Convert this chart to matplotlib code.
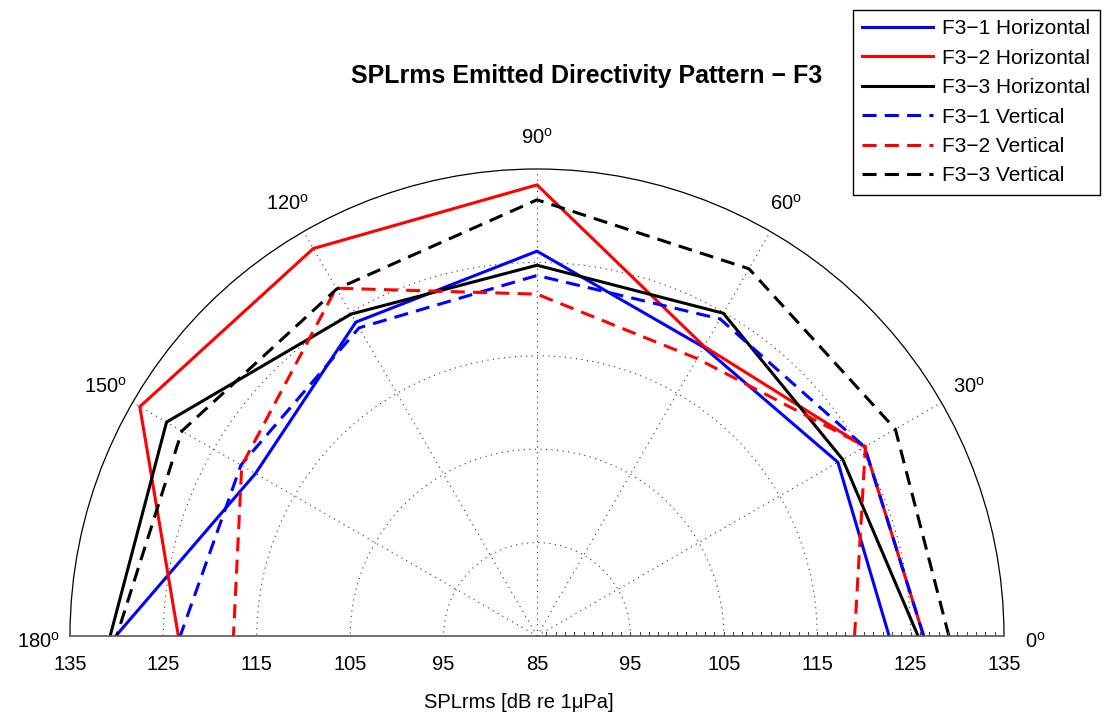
import numpy as np
import matplotlib
matplotlib.use('Agg')
import matplotlib.pyplot as plt

plt.rcParams['font.family'] = ['Liberation Sans', 'DejaVu Sans']
plt.rcParams['mathtext.default'] = 'regular'

# measurement angles (deg) and SPLrms levels (dB re 1uPa)
angles = [0, 30, 60, 90, 120, 150, 180]
f31_h = [122.7, 122.2, 120.7, 126.2, 123.8, 119.8, 130.1]
f32_h = [126.4, 125.5, 120.8, 133.3, 132.9, 134.1, 123.4]
f33_h = [125.8, 122.8, 124.9, 124.7, 124.8, 130.8, 130.7]
f31_v = [126.4, 125.5, 124.2, 123.6, 123.1, 121.6, 123.2]
f32_v = [119.0, 125.6, 119.3, 121.6, 128.0, 121.5, 117.5]
f33_v = [129.1, 129.3, 130.4, 131.7, 127.9, 128.9, 130.0]

labels = ['F3\u22121 Horizontal', 'F3\u22122 Horizontal', 'F3\u22123 Horizontal',
          'F3\u22121 Vertical', 'F3\u22122 Vertical', 'F3\u22123 Vertical']
r_ticks = [135, 125, 115, 105, 95, 85]
theta_ticks = [0, 30, 60, 90, 120, 150, 180]

fig = plt.figure(figsize=(11.05, 7.16), dpi=100)
# polar axes box stays square; the upper half-disc sits in its middle band
ax = fig.add_axes([70/1105, -153.5/716, 934/1105, 934/716], projection='polar')
ax.set_thetamin(0)
ax.set_thetamax(180)
ax.set_rlim(85, 135)

th = np.deg2rad(angles)
series = [f31_h, f32_h, f33_h, f31_v, f32_v, f33_v]
colors = ['b', 'r', 'k', 'b', 'r', 'k']
handles = []
for i, (vals, c) in enumerate(zip(series, colors)):
    if i < 3:
        ln, = ax.plot(th, vals, color=c, lw=2.2, solid_joinstyle='miter')
    else:
        ln, = ax.plot(th, vals, color=c, lw=2.2, dashes=(4.6, 2.7))
    handles.append(ln)

# grid
ax.set_xticks(np.deg2rad([30, 60, 90, 120, 150]))
ax.set_yticks([95, 105, 115, 125])
ax.set_xticklabels([])
ax.set_yticklabels([])
ax.tick_params(length=0)
ax.grid(True, color='0.2', lw=0.8, linestyle=(0, (1, 4)))
ax.spines['polar'].set_linewidth(0.9)
ax.spines['polar'].set_color('k')
for s in ['start', 'end']:
    ax.spines[s].set_color('0.35')
    ax.spines[s].set_linewidth(1.2)

# small ticks along the right baseline
ax.plot(np.zeros(49), np.arange(86, 135), ls='none', marker='|', ms=6,
        mew=0.8, color='0.3')

# angle labels
for a in theta_ticks:
    dy = -6 if a in (0, 180) else 0
    ax.annotate('%d$^{o}$' % a, xy=(np.deg2rad(a), 138.4), xytext=(0, dy),
                textcoords='offset pixels', ha='center', va='center',
                fontsize=14.5, annotation_clip=False)

# radial labels under the baseline
for v in r_ticks:
    for t in ([np.pi, 0] if v != 85 else [0]):
        ax.annotate(str(v), xy=(t, v), xytext=(0, -29), textcoords='offset pixels',
                    ha='center', va='center', fontsize=14.5, annotation_clip=False)

fig.text(519/1105, 1 - 703/716, 'SPLrms [dB re 1\u03bcPa]', ha='center', va='center',
         fontsize=14.5)
fig.text(587/1105, 1 - 76/716, 'SPLrms Emitted Directivity Pattern \u2212 F3',
         ha='center', va='center', fontsize=18, fontweight='bold')

leg = fig.legend(handles, labels, loc='upper right',
                 bbox_to_anchor=(1100/1105, 1 - 10/716), borderaxespad=0,
                 fontsize=15, handlelength=3.4, handletextpad=0.45,
                 labelspacing=0.5, borderpad=0.45, fancybox=False,
                 framealpha=1, edgecolor='k')
leg.get_frame().set_linewidth(1.0)

fig.savefig('out.png', dpi=100)
